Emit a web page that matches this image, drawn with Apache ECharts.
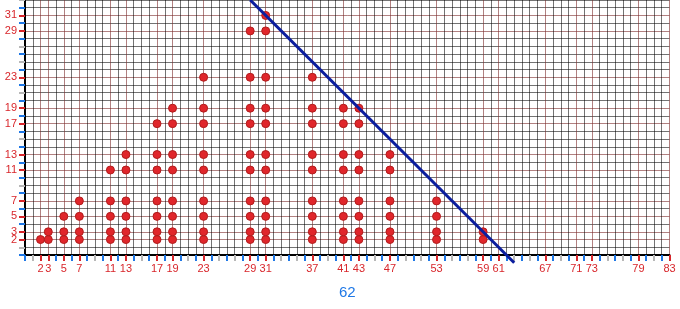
<!DOCTYPE html>
<html>
<head>
<meta charset="utf-8">
<script src="https://cdn.jsdelivr.net/npm/echarts@6/dist/echarts.min.js"></script>
<style>
html,body{margin:0;padding:0;background:#fff;}
#chart{width:680px;height:309px;}
</style>
</head>
<body>
<div id="chart"></div>
<script>
// tick label values (primes)
var primes = [2, 3, 5, 7, 11, 13, 17, 19, 23, 29, 31, 37, 41, 43, 47, 53, 59, 61, 67, 71, 73, 79, 83];
// axis ranges
var xMax = 83;
var yMax = 33;
// prime pairs (p, q), q <= p, p + q <= 62
var pairP = [2, 3,3, 5,5,5, 7,7,7,7, 11,11,11,11,11, 13,13,13,13,13,13,
  17,17,17,17,17,17,17, 19,19,19,19,19,19,19,19,
  23,23,23,23,23,23,23,23,23,
  29,29,29,29,29,29,29,29,29,29,
  31,31,31,31,31,31,31,31,31,31,31,
  37,37,37,37,37,37,37,37,37,
  41,41,41,41,41,41,41,41,
  43,43,43,43,43,43,43,43,
  47,47,47,47,47,47,
  53,53,53,53,
  59,59];
var pairQ = [2, 2,3, 2,3,5, 2,3,5,7, 2,3,5,7,11, 2,3,5,7,11,13,
  2,3,5,7,11,13,17, 2,3,5,7,11,13,17,19,
  2,3,5,7,11,13,17,19,23,
  2,3,5,7,11,13,17,19,23,29,
  2,3,5,7,11,13,17,19,23,29,31,
  2,3,5,7,11,13,17,19,23,
  2,3,5,7,11,13,17,19,
  2,3,5,7,11,13,17,19,
  2,3,5,7,11,13,
  2,3,5,7,
  2,3];
// line p + q = 62
var sumTarget = 62;
var lineX = [29, 63];
var lineY = [33, -1];

function isPrime(n){ return primes.indexOf(n) >= 0; }
function range(n){ var a=[]; for(var i=0;i<=n;i++) a.push(i); return a; }
function evens(n){ return range(n).filter(function(v){return v%2===0 && !isPrime(v);}); }
function oddComp(n){ return range(n).filter(function(v){return v%2===1 && !isPrime(v);}); }
function primesUpTo(n){ return primes.filter(function(v){return v<=n;}); }
function gridColors(n){ return range(n).map(function(v){ return isPrime(v) ? 'rgba(125,45,45,0.6)' : 'rgba(0,0,0,0.55)'; }); }

var BLUE = '#1f78e6', RED = '#d8262b', GREY = '#b8b8b8';
var labelFont = {color: RED, fontSize: 11, fontFamily: 'Liberation Sans, Arial, sans-serif'};

function baseAxis(max, colors, extra){
  return Object.assign({
    type: 'value', min: 0, max: max, interval: 1, gridIndex: 0,
    axisLine: {show: true, onZero: false, lineStyle: {color: '#000', width: 2}},
    axisTick: {show: false}, axisLabel: {show: false},
    splitLine: {show: true, lineStyle: {color: colors, width: 1}}
  }, extra || {});
}
function tickAxis(max, values, color, labelValues, pos){
  return {
    type: 'value', min: 0, max: max, gridIndex: 0, position: pos, offset: 0,
    axisLine: {show: false, onZero: false},
    axisTick: {show: true, customValues: values, length: 6, lineStyle: {color: color, width: 2}},
    axisLabel: labelValues ? Object.assign({show: true, customValues: labelValues, margin: 8, hideOverlap: false}, labelFont) : {show: false},
    splitLine: {show: false}
  };
}

var scatterData = pairP.map(function(p, i){ return [p, pairQ[i]]; });
var lineData = lineX.map(function(x, i){ return [x, lineY[i]]; });
var yPrimes = primesUpTo(yMax);

var chart = echarts.init(document.getElementById('chart'), null, {renderer: 'canvas'});
chart.setOption({
  animation: false,
  backgroundColor: '#fff',
  grid: {left: 25, right: 10.5, top: 0, bottom: 54, containLabel: false, outerBoundsMode: 'none'},
  xAxis: [
    baseAxis(xMax, gridColors(xMax), {position: 'bottom', name: String(sumTarget), nameLocation: 'middle', nameGap: 30,
      nameTextStyle: {color: BLUE, fontSize: 15, fontFamily: 'Liberation Sans, Arial, sans-serif'}}),
    tickAxis(xMax, evens(xMax), BLUE, null, 'bottom'),
    tickAxis(xMax, oddComp(xMax), GREY, null, 'bottom'),
    tickAxis(xMax, primesUpTo(xMax), RED, primesUpTo(xMax), 'bottom')
  ],
  yAxis: [
    baseAxis(yMax, gridColors(yMax), {position: 'left'}),
    tickAxis(yMax, evens(yMax), BLUE, yPrimes.slice(0, 1), 'left'),
    tickAxis(yMax, oddComp(yMax), GREY, null, 'left'),
    tickAxis(yMax, yPrimes, RED, yPrimes.slice(1), 'left')
  ],
  series: [
    {type: 'scatter', xAxisIndex: 0, yAxisIndex: 0, data: scatterData, symbol: 'circle', symbolSize: 8,
     itemStyle: {color: '#e0262b', borderColor: '#b01c1c', borderWidth: 1, opacity: 1}, z: 3},
    {type: 'line', xAxisIndex: 0, yAxisIndex: 0, data: lineData, symbol: 'none', clip: false,
     lineStyle: {color: '#0b1d9e', width: 3}, z: 4, silent: true}
  ]
});
</script>
</body>
</html>
